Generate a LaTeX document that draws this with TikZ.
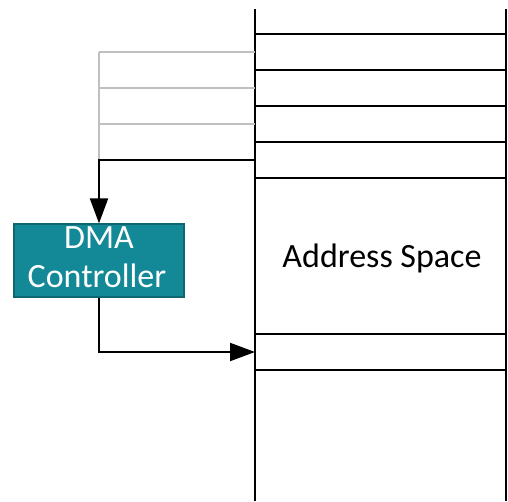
\documentclass[tikz,border=0pt]{standalone}
\usepackage{fontspec}
\setmainfont{Carlito}
\usetikzlibrary{arrows.meta}
\definecolor{dmafill}{HTML}{138896}
\definecolor{dmaedge}{HTML}{0F6670}
\definecolor{lightgray}{HTML}{C0C0C0}
\begin{document}
\begin{tikzpicture}[x=1pt,y=-1pt,
  blk/.style={line width=2pt,black},
  gry/.style={line width=2pt,lightgray},
  arr/.style={line width=2pt,black,-{Triangle[length=25pt,width=18pt]}},
  dmabox/.style={draw=dmaedge,fill=dmafill,line width=1.2pt,text=white,align=center,
     minimum width=170pt,minimum height=73pt,inner sep=0pt,font=\fontsize{34}{38}\selectfont}]
\useasboundingbox (0,0) rectangle (508,501);
% memory column
\draw[blk] (255,9) -- (255,501);
\draw[blk] (506,9) -- (506,501);
\foreach \yy in {34,70,106,142,178,334,370}
  \draw[blk] (255,\yy) -- (506,\yy);
\node[font=\fontsize{34}{38}\selectfont,anchor=base] (as) at (382,267) {Address Space};
% gray taps
\foreach \yy in {52,88,124}
  \draw[gry] (255,\yy) -- (99,\yy);
\draw[gry] (99,52) -- (99,160);
% DMA
\node[dmabox] (dma) at (99,260.5) {};
\node[font=\fontsize{34}{38}\selectfont,text=white,anchor=base] (l1) at (99,248) {DMA};
\node[font=\fontsize{34}{38}\selectfont,text=white,anchor=base] (l2) at (97,287) {Controller};
\coordinate (src) at (255,160);
\coordinate (dst) at (255,352);
\draw[arr] (src) -- (99,160) -- (dma.north);
\draw[arr] (dma.south) -- (99,352) -- (dst);
\end{tikzpicture}
\end{document}
